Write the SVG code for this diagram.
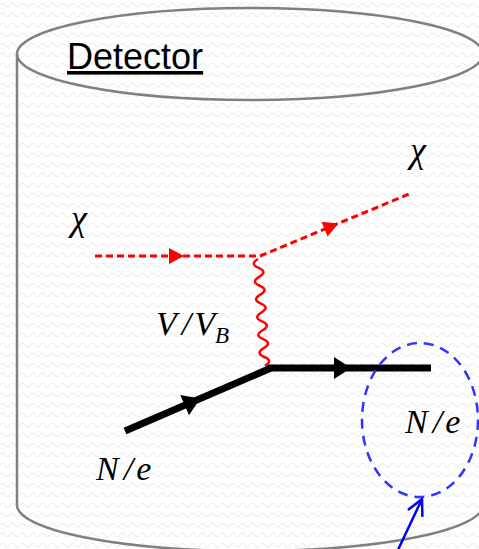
<svg xmlns="http://www.w3.org/2000/svg" width="479" height="549" viewBox="0 0 479 549">
<style>
.math{font-family:"Liberation Serif","DejaVu Serif",serif;font-style:italic;fill:#000}
.chi{stroke:#ff0000;stroke-width:3;fill:none;stroke-dasharray:7 4}
.fermion{stroke:#000;stroke-width:7;fill:none}
.cyl{stroke:#808080;stroke-width:2.5;fill:none}
</style>
<defs>
<pattern id="bg" width="10" height="10" patternUnits="userSpaceOnUse">
<path d="M0 5 Q2.5 1 5 5 T10 5" stroke="#ececec" stroke-width="1.2" fill="none"/>
</pattern>
<polygon id="redHead" points="8,0 -7,-8 -7,8" fill="#ff0000"/>
<polygon id="blackHead" points="9,0 -8,-11 -8,11" fill="#000"/>
<marker id="openArrow" viewBox="0 0 20 20" refX="18" refY="10" markerWidth="20" markerHeight="20" markerUnits="userSpaceOnUse" orient="auto">
<path d="M2 2 L18 10 L2 18" stroke="#0000ff" stroke-width="2.5" fill="none"/>
</marker>
</defs>
<rect width="479" height="549" fill="#fff"/>
<rect width="479" height="549" fill="url(#bg)"/>
<g id="detector">
<ellipse class="cyl" cx="250" cy="54" rx="233" ry="46"/>
<path class="cyl" d="M17 54 L17 505 A233 46 0 0 0 483 505"/>
<text x="67" y="69" font-family="Liberation Sans, Arial, sans-serif" font-size="36" fill="#000" text-decoration="underline">Detector</text>
</g>
<g id="connectors">
<g id="chi-in">
<line class="chi" x1="95" y1="256" x2="260" y2="256"/>
<use href="#redHead" transform="translate(176,256)"/>
</g>
<g id="chi-out">
<line class="chi" x1="260" y1="256" x2="409" y2="194"/>
<use href="#redHead" transform="translate(331,226.5) rotate(-22.6)"/>
</g>
<g id="mediator">
<path transform="translate(258,259) rotate(-3.7)" d="M0 0 q-9 4.47 0 8.93 t0 8.93 t0 8.93 t0 8.93 t0 8.93 t0 8.93 t0 8.93 t0 8.93 t0 8.93 t0 8.93 t0 8.93 t0 8.93" stroke="#ff0000" stroke-width="2.5" fill="none"/>
</g>
<g id="target-in">
<line class="fermion" x1="125" y1="431" x2="271" y2="368"/>
<use href="#blackHead" transform="translate(192,402) rotate(-23.3)"/>
</g>
<g id="target-out">
<line class="fermion" x1="268" y1="368" x2="431" y2="368"/>
<use href="#blackHead" transform="translate(342,368)"/>
</g>
<g id="pointer">
<line x1="397" y1="552" x2="422" y2="499" stroke="#0000ff" stroke-width="2.5" marker-end="url(#openArrow)"/>
</g>
</g>
<g id="recoil">
<ellipse cx="420" cy="420" rx="58" ry="77" stroke="#3333ff" stroke-width="2.5" fill="none" stroke-dasharray="10 7"/>
<text class="math" x="405" y="433" font-size="34">N<tspan dx="5">/</tspan><tspan dx="3">e</tspan></text>
</g>
<g id="labels">
<text class="math" x="71" y="230" font-size="36">χ</text>
<text class="math" x="410" y="162" font-size="36">χ</text>
<text class="math" x="156" y="335" font-size="34">V<tspan dx="5">/</tspan><tspan dx="3">V</tspan><tspan font-size="23" dy="8">B</tspan></text>
<text class="math" x="96" y="480" font-size="34">N<tspan dx="5">/</tspan><tspan dx="3">e</tspan></text>
</g>
</svg>
